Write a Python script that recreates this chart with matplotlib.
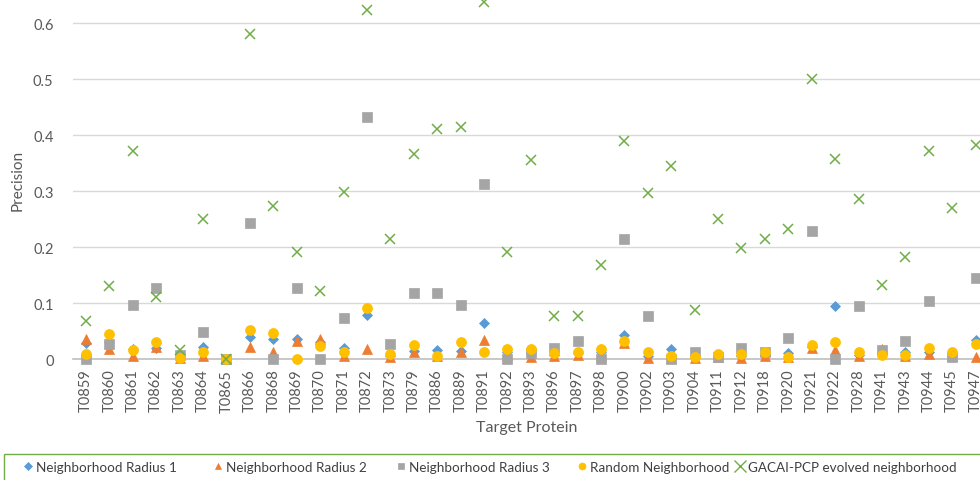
import matplotlib
matplotlib.use("Agg")
import matplotlib.pyplot as plt
from matplotlib.patches import Rectangle
from matplotlib.lines import Line2D

plt.rcParams['font.family'] = ['Lato', 'DejaVu Sans']

categories = ["T0859", "T0860", "T0861", "T0862", "T0863", "T0864", "T0865", "T0866",
              "T0868", "T0869", "T0870", "T0871", "T0872", "T0873", "T0879", "T0886",
              "T0889", "T0891", "T0892", "T0893", "T0896", "T0897", "T0898", "T0900",
              "T0902", "T0903", "T0904", "T0911", "T0912", "T0918", "T0920", "T0921",
              "T0922", "T0928", "T0941", "T0943", "T0944", "T0945", "T0947"]

radius1 = [0.029, 0.030, 0.018, 0.019, 0.002, 0.022, 0.0, 0.040, 0.035, 0.036, 0.030,
           0.020, 0.078, 0.005, 0.015, 0.016, 0.015, 0.065, 0.012, 0.010, 0.008, 0.010,
           0.012, 0.042, 0.005, 0.018, 0.003, 0.005, 0.005, 0.008, 0.011, 0.022, 0.095,
           0.008, 0.010, 0.013, 0.012, 0.006, 0.034]

radius2 = [0.035, 0.017, 0.006, 0.022, 0.002, 0.006, 0.0, 0.022, 0.012, 0.033, 0.035,
           0.006, 0.018, 0.003, 0.012, 0.005, 0.013, 0.034, 0.008, 0.003, 0.006, 0.008,
           0.005, 0.029, 0.001, 0.002, 0.002, 0.004, 0.001, 0.006, 0.003, 0.020, 0.016,
           0.006, 0.018, 0.005, 0.009, 0.005, 0.003]

radius3 = [0.0, 0.026, 0.096, 0.126, 0.007, 0.048, 0.0, 0.243, 0.0, 0.126, 0.0,
           0.073, 0.432, 0.026, 0.117, 0.117, 0.096, 0.313, 0.0, 0.011, 0.019, 0.033,
           0.0, 0.214, 0.076, 0.0, 0.013, 0.003, 0.020, 0.012, 0.0375, 0.229, 0.0,
           0.095, 0.016, 0.033, 0.104, 0.004, 0.144]

random_nb = [0.009, 0.044, 0.016, 0.030, 0.001, 0.013, 0.0, 0.051, 0.047, 0.0, 0.023,
             0.012, 0.091, 0.009, 0.025, 0.006, 0.030, 0.012, 0.018, 0.018, 0.011, 0.013,
             0.018, 0.032, 0.013, 0.006, 0.003, 0.009, 0.009, 0.012, 0.004, 0.025, 0.030,
             0.013, 0.007, 0.007, 0.020, 0.012, 0.026]

gacai = [0.067, 0.131, 0.372, 0.111, 0.016, 0.250, 0.0, 0.580, 0.274, 0.192, 0.121,
         0.298, 0.623, 0.214, 0.367, 0.411, 0.415, 0.637, 0.192, 0.355, 0.076, 0.076,
         0.168, 0.389, 0.296, 0.345, 0.088, 0.250, 0.199, 0.214, 0.233, 0.501, 0.357,
         0.286, 0.133, 0.183, 0.372, 0.269, 0.382]

series_names = ["Neighborhood Radius 1", "Neighborhood Radius 2", "Neighborhood Radius 3",
                "Random Neighborhood", "GACAI-PCP evolved neighborhood"]
y_ticks = [0, 0.1, 0.2, 0.3, 0.4, 0.5, 0.6]
y_tick_labels = ["0", "0.1", "0.2", "0.3", "0.4", "0.5", "0.6"]

colors = ["#5B9BD5", "#ED7D31", "#A5A5A5", "#FFC000", "#70AD47"]
markers = ["D", "^", "s", "o", "x"]
msizes = [5.0, 7.0, 6.8, 7.2, 7.0]

fig = plt.figure(figsize=(9.8, 4.81), dpi=100)
W, H = 980, 481
ax = fig.add_axes([73 / W, 1 - 360 / H, 1 - 73 / W, 360 / H])

x = list(range(len(categories)))
all_series = [radius1, radius2, radius3, random_nb, gacai]
for vals, name, c, m, ms in zip(all_series, series_names, colors, markers, msizes):
    if m == "x":
        ax.plot(x, vals, linestyle="none", marker=m, markersize=ms,
                markeredgecolor=c, markeredgewidth=1.1, color=c,
                clip_on=False, label=name, zorder=3)
    else:
        ax.plot(x, vals, linestyle="none", marker=m, markersize=ms,
                markerfacecolor=c, markeredgecolor=c, markeredgewidth=0.5,
                clip_on=False, label=name, zorder=3)

ax.set_xlim(-0.555, (980 - 86) / 23.41)
ax.set_ylim(0, 0.643)
ax.set_yticks(y_ticks)
ax.set_yticklabels(y_tick_labels)
ax.set_xticks(x)
ax.set_xticklabels(categories, rotation=90)

for s in ["left", "right", "top"]:
    ax.spines[s].set_visible(False)
ax.spines["bottom"].set_color("#BFBFBF")
ax.spines["bottom"].set_linewidth(1.2)
ax.grid(axis="y", color="#D9D9D9", linewidth=1.0)
ax.set_axisbelow(True)
ax.tick_params(axis="both", length=0, colors="#595959", labelsize=10.5)
ax.tick_params(axis="y", pad=14)
ax.tick_params(axis="x", pad=7)

ax.set_ylabel("Precision", fontsize=11, color="#595959", labelpad=6)
ax.set_xlabel("Target Protein", fontsize=11.5, color="#595959", labelpad=6)

# legend box
fig.patches.append(Rectangle((4 / W, -0.05), 1.0, 1 - 455 / H + 0.05,
                             transform=fig.transFigure, fill=False,
                             edgecolor="#70AD47", linewidth=1.0))
legend_x = [24, 214, 397, 578, 736]
for c, m, name, lx in zip(colors, markers, series_names, legend_x):
    ms = 5
    if m == "D":
        ms = 4
    if m == "x":
        ms = 8
    h = Line2D([], [], linestyle="none", marker=m, markersize=ms,
               color=c, markerfacecolor=c, markeredgecolor=c,
               markeredgewidth=1.0 if m == "x" else 0.5, label=name)
    fig.legend(handles=[h], loc="center left", bbox_to_anchor=(lx / W, 1 - 468 / H),
               frameon=False, fontsize=9.7, handlelength=0.6, handletextpad=0.3,
               labelcolor="#404040", borderaxespad=0, borderpad=0)

fig.savefig("out.png", dpi=100)
